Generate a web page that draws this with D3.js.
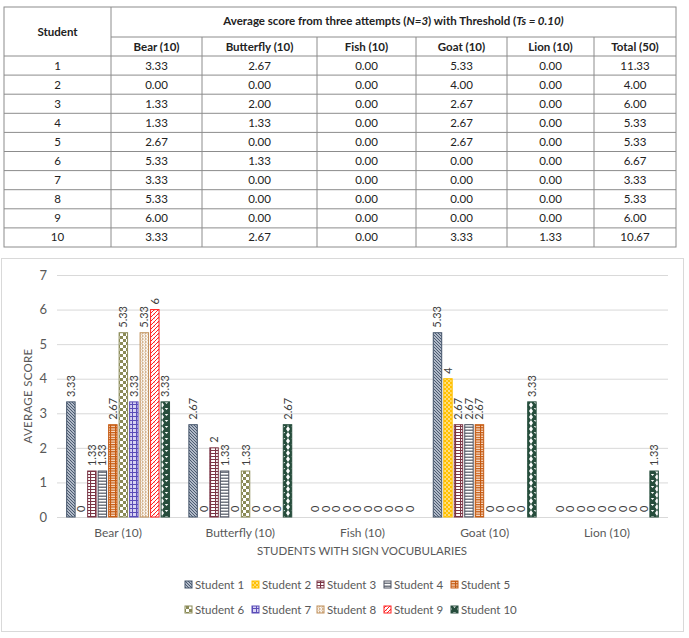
<!DOCTYPE html>
<meta charset="utf-8">
<style>
body { margin: 0; background: #fff; }
svg { font-family: Lato, "Open Sans", Arial, sans-serif; }
.cell { fill: none; stroke: #8c8c8c; stroke-width: 1; }
.tbl text { font-size: 11.5px; fill: #222; }
.tbl .head { font-weight: bold; }
.grid line { stroke: #d9d9d9; }
.lbl { font-size: 11px; fill: #404040; }
.axis text { font-size: 11.5px; fill: #595959; font-family: Lato, "Open Sans", Arial, sans-serif; }
</style>
<body>
<svg width="689" height="638"></svg>
<script src="https://d3js.org/d3.v7.min.js"></script>
<script>

var categories = ["Bear (10)", "Butterfly (10)", "Fish (10)", "Goat (10)", "Lion (10)"];
var students = ["Student 1", "Student 2", "Student 3", "Student 4", "Student 5",
                "Student 6", "Student 7", "Student 8", "Student 9", "Student 10"];
var bear      = [3.33, 0, 1.33, 1.33, 2.67, 5.33, 3.33, 5.33, 6, 3.33];
var butterfly = [2.67, 0, 2, 1.33, 0, 1.33, 0, 0, 0, 2.67];
var fish      = [0, 0, 0, 0, 0, 0, 0, 0, 0, 0];
var goat      = [5.33, 4, 2.67, 2.67, 2.67, 0, 0, 0, 0, 3.33];
var lion      = [0, 0, 0, 0, 0, 0, 0, 0, 0, 1.33];
var totals    = [11.33, 4, 6, 5.33, 5.33, 6.67, 3.33, 5.33, 6, 10.67];
var yTicks    = [0, 1, 2, 3, 4, 5, 6, 7];
var colors = ["#44546a", "#ffc000", "#7b3545", "#4a4f5e", "#c55a11",
              "#8a8a56", "#5b4cb8", "#c0905a", "#ff2020", "#264d3c"];

var series = [bear, butterfly, fish, goat, lion];

var svg = d3.select("svg");
var defs = svg.append("defs");

// ---- patterns, one per student
function pat(i, w, h) {
  return defs.append("pattern").attr("id", "p" + i)
    .attr("patternUnits", "userSpaceOnUse").attr("width", w).attr("height", h);
}
var c = colors, p;
p = pat(0, 3, 3); p.append("rect").attr("width", 3).attr("height", 3).attr("fill", "#dde3ee");
p.append("path").attr("d", "M0,0L3,3M-1,2L1,4M2,-1L4,1").attr("stroke", c[0]).attr("stroke-width", 1.1);
p = pat(1, 4, 4); p.append("rect").attr("width", 4).attr("height", 4).attr("fill", "#ffd966");
p.append("path").attr("d", "M0,0h2v2h-2zM2,2h2v2h-2z").attr("fill", c[1]);
p.append("rect").attr("x", 0.5).attr("y", 2.5).attr("width", 1).attr("height", 1).attr("fill", "#fff6d8");
p = pat(2, 5, 3); p.append("rect").attr("width", 5).attr("height", 3).attr("fill", "#fff");
p.append("path").attr("d", "M0,0.5H5M0.5,0V3").attr("stroke", c[2]).attr("stroke-width", 1.2);
p = pat(3, 4, 3); p.append("rect").attr("width", 4).attr("height", 3).attr("fill", "#fff");
p.append("path").attr("d", "M0,2L1,0.5L2,2L3,0.5L4,2").attr("fill", "none").attr("stroke", c[3]).attr("stroke-width", 0.9);
p = pat(4, 5, 2.4); p.append("rect").attr("width", 5).attr("height", 2.4).attr("fill", "#fbe3d2");
p.append("path").attr("d", "M0,0.6H5M0.5,0V2.4").attr("stroke", c[4]).attr("stroke-width", 1.2);
p = pat(5, 6, 6); p.append("rect").attr("width", 6).attr("height", 6).attr("fill", "#fff");
p.append("path").attr("d", "M0,0h3v3h-3zM3,3h3v3h-3z").attr("fill", c[5]);
p = pat(6, 4, 4); p.append("rect").attr("width", 4).attr("height", 4).attr("fill", "#d9d4f2");
p.append("path").attr("d", "M0,0.5H4M0.5,0V4").attr("stroke", c[6]).attr("stroke-width", 1);
p = pat(7, 3, 3); p.append("rect").attr("width", 3).attr("height", 3).attr("fill", "#fff");
p.append("path").attr("d", "M2.5,0.4A1.1,1.1 0 1 0 2.5,2.4").attr("fill", "none").attr("stroke", c[7]).attr("stroke-width", 0.8);
p = pat(8, 4, 4); p.append("rect").attr("width", 4).attr("height", 4).attr("fill", "#fff");
p.append("path").attr("d", "M0,4L4,0M-1,1L1,-1M3,5L5,3").attr("stroke", c[8]).attr("stroke-width", 1);
p.append("path").attr("d", "M1,2.5Q2,1.5 2.5,3").attr("fill", "none").attr("stroke", c[8]).attr("stroke-width", 0.6);
p = pat(9, 9, 6); p.append("rect").attr("width", 9).attr("height", 6).attr("fill", c[9]);
p.append("path").attr("d", "M0,0L2,3L0,6ZM9,0L7,3L9,6ZM2.8,0L4.5,2L6.2,0Z").attr("fill", "#fff");

// ---- table
var colX = [4, 111, 202, 317, 416, 507, 594, 676];
var tTop = 7, h1 = 37, h2 = 56, rowH = 19.1;
var tbl = svg.append("g").attr("class", "tbl");
var nRows = students.length;
var tBottom = h2 + nRows * rowH;

tbl.append("rect").attr("class", "cell").attr("x", colX[0]).attr("y", tTop)
  .attr("width", colX[7] - colX[0]).attr("height", tBottom - tTop).attr("stroke-width", 1.3);
tbl.append("line").attr("class", "cell").attr("x1", colX[1]).attr("x2", colX[7]).attr("y1", h1).attr("y2", h1);
d3.range(nRows).forEach(function(r) {
  var y = h2 + r * rowH;
  tbl.append("line").attr("class", "cell").attr("x1", colX[0]).attr("x2", colX[7]).attr("y1", y).attr("y2", y);
});
colX.slice(1, 7).forEach(function(x, i) {
  tbl.append("line").attr("class", "cell").attr("x1", x).attr("x2", x)
    .attr("y1", i === 0 ? tTop : h1).attr("y2", tBottom);
});
function mid(i) { return (colX[i] + colX[i + 1]) / 2; }

tbl.append("text").attr("class", "head").attr("x", mid(0)).attr("y", (tTop + h2) / 2 + 4)
  .attr("text-anchor", "middle").text("Student");
var tt = tbl.append("text").attr("class", "head").attr("x", (colX[1] + colX[7]) / 2)
  .attr("y", (tTop + h1) / 2 + 3).attr("text-anchor", "middle");
tt.append("tspan").text("Average score from three attempts (");
tt.append("tspan").attr("font-style", "italic").text("N=3");
tt.append("tspan").text(") with Threshold (");
tt.append("tspan").attr("font-style", "italic").text("Ts = 0.10)");

var heads = categories.concat(["Total (50)"]);
heads.forEach(function(hd, i) {
  tbl.append("text").attr("class", "head").attr("x", mid(i + 1)).attr("y", (h1 + h2) / 2 + 4)
    .attr("text-anchor", "middle").text(hd);
});
students.forEach(function(s, r) {
  var y = h2 + r * rowH + rowH / 2 + 4;
  var vals = [r + 1 + ""].concat(series.map(function(a) { return a[r].toFixed(2); }), [totals[r].toFixed(2)]);
  vals.forEach(function(v, i) {
    tbl.append("text").attr("x", mid(i)).attr("y", y).attr("text-anchor", "middle").text(v);
  });
});

// ---- chart
svg.append("rect").attr("x", 1.5).attr("y", 258.5).attr("width", 682).attr("height", 373)
  .attr("fill", "#fff").attr("stroke", "#d9d9d9");

var x0 = d3.scaleBand().domain(categories).range([57, 668]).paddingInner(0.15).paddingOuter(0.075);
var x1 = d3.scaleBand().domain(d3.range(10)).range([0, x0.bandwidth()]).paddingInner(0.1);
var y = d3.scaleLinear().domain([0, 7]).range([517, 275]);

svg.append("g").attr("class", "grid").selectAll("line").data(yTicks).join("line")
  .attr("x1", 57).attr("x2", 668).attr("y1", function(d) { return y(d) + 0.5; })
  .attr("y2", function(d) { return y(d) + 0.5; });

var yAxis = svg.append("g").attr("class", "axis").attr("transform", "translate(47,0)")
  .call(d3.axisLeft(y).tickValues(yTicks).tickFormat(d3.format("d")).tickSize(0).tickPadding(0));
yAxis.select(".domain").remove();
yAxis.selectAll("text").style("font-size", "13px");

var xAxis = svg.append("g").attr("class", "axis").attr("transform", "translate(0,517)")
  .call(d3.axisBottom(x0).tickSize(0).tickPadding(11));
xAxis.select(".domain").remove();
xAxis.selectAll("text").style("font-size", "12px");

svg.append("text").attr("transform", "translate(32,396) rotate(-90)")
  .attr("text-anchor", "middle").attr("font-size", "11.5px").attr("fill", "#595959")
  .attr("letter-spacing", "0.3px").text("AVERAGE SCORE");
svg.append("text").attr("x", 362).attr("y", 555).attr("text-anchor", "middle")
  .attr("font-size", "11.5px").attr("fill", "#595959")
  .text("STUDENTS WITH SIGN VOCUBULARIES");

var cells = [];
categories.forEach(function(cat, ci) {
  series[ci].forEach(function(v, si) { cells.push({cat: cat, s: si, v: v}); });
});

var bars = svg.append("g");
bars.selectAll("rect").data(cells.filter(function(d) { return d.v > 0; })).join("rect")
  .attr("x", function(d) { return x0(d.cat) + x1(d.s) + 0.5; })
  .attr("y", function(d) { return y(d.v); })
  .attr("width", x1.bandwidth() - 1)
  .attr("height", function(d) { return y(0) - y(d.v); })
  .attr("fill", function(d) { return "url(#p" + d.s + ")"; })
  .attr("stroke", function(d) { return colors[d.s]; })
  .attr("stroke-width", 1);

bars.selectAll("text").data(cells).join("text").attr("class", "lbl")
  .attr("transform", function(d) {
    return "translate(" + (x0(d.cat) + x1(d.s) + x1.bandwidth() / 2 + 4) + "," + (y(d.v) - 5) + ") rotate(-90)";
  })
  .text(function(d) { return d3.format("~g")(d.v); });

// ---- legend
var legX = [185, 252, 317, 384, 451];
var legend = svg.append("g");
students.forEach(function(s, i) {
  var lx = legX[i % 5], ly = i < 5 ? 589 : 614;
  legend.append("rect").attr("x", lx).attr("y", ly - 8).attr("width", 7).attr("height", 7)
    .attr("fill", "url(#p" + i + ")").attr("stroke", colors[i]);
  legend.append("text").attr("x", lx + 10).attr("y", ly).attr("font-size", "11.5px")
    .attr("fill", "#595959").text(s);
});

</script>
</body>
